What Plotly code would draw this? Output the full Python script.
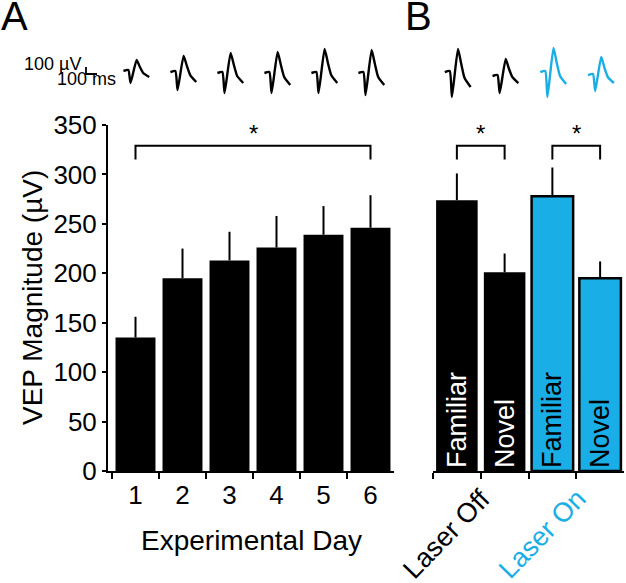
import plotly.graph_objects as go

# ---------------- data ----------------
days = ["1", "2", "3", "4", "5", "6"]
vep_days = [135, 195, 213, 226, 239, 246]
sem_days = [21, 30, 29, 32, 29, 33]

cond_cats = ["Off Familiar", "Off Novel", "On Familiar", "On Novel"]
cond_labels = ["Familiar", "Novel", "Familiar", "Novel"]
vep_cond = [274, 201, 278, 195]
sem_cond = [27, 19, 29, 17]
group_labels = ["Laser Off", "Laser On"]

sig_bracket_top = 329
sig_bracket_leg = 315
sig_star_y = 341

# example VEP waveforms (time in ms, amplitude in µV)
wave_t = [0, 45, 65, 120, 150, 180, 235]
waves_days = [
    [29, 43, -143, 186, 86, 0, -57],
    [14, 29, -243, 243, 100, -29, -129],
    [0, 14, -286, 286, 114, -43, -143],
    [0, 14, -286, 300, 114, -57, -172],
    [0, 14, -286, 343, 143, -29, -143],
    [0, 14, -315, 329, 129, -57, -172],
]
waves_cond = [
    [14, 29, -343, 343, 129, -72, -200],
    [-43, -29, -286, 200, 57, -57, -143],
    [14, 29, -343, 357, 143, -43, -157],
    [-29, -14, -257, 229, 71, -57, -143],
]
scale_ms = 100
scale_uv = 100

# ---------------- style ----------------
W, H = 626, 583
BLUE = "#1AAEE6"
FONT = "Liberation Sans, Arial, Helvetica, sans-serif"
ms_per_px = 100 / 11.0
uv_per_px = 100 / 7.0
lead_ms = 110


def px(x):
    return x / W


def py(y):
    return 1 - y / H


A_dom = [px(108), px(394)]
B_dom = [px(433), px(624)]
Y_dom = [py(471), py(125)]
A_range = [-0.585, 5.5]
B_range = [-0.5, 3.5]
ms_per_unit_A = 47.0 * ms_per_px
ms_per_unit_B = 47.75 * ms_per_px

wave_top, wave_bot, wave_base = 40, 100, 73
wave_yrange = [-(wave_bot - wave_base) * uv_per_px, (wave_base - wave_top) * uv_per_px]

fig = go.Figure()

# Panel A bars
fig.add_trace(go.Bar(
    x=days, y=vep_days, xaxis="x", yaxis="y",
    marker=dict(color="black", line=dict(width=0)),
    width=0.85,
    error_y=dict(type="data", array=sem_days, arrayminus=[0] * len(days),
                 symmetric=False, width=0, thickness=2, color="black"),
    showlegend=False, hoverinfo="skip",
))

# Panel B bars
fig.add_trace(go.Bar(
    x=cond_cats, y=vep_cond, xaxis="x2", yaxis="y2",
    marker=dict(color=["black", "black", BLUE, BLUE],
                line=dict(color="black", width=[0, 0, 2.5, 2.5])),
    width=0.87,
    text=cond_labels, textposition="inside", insidetextanchor="start",
    textangle=-90, constraintext="none",
    textfont=dict(family=FONT, size=27, color=["white", "white", "black", "black"]),
    error_y=dict(type="data", array=sem_cond, arrayminus=[0] * len(cond_cats),
                 symmetric=False, width=0, thickness=2, color="black"),
    showlegend=False, hoverinfo="skip",
))

# significance brackets
fig.add_trace(go.Scatter(
    x=[days[0], days[0], days[-1], days[-1]],
    y=[sig_bracket_leg, sig_bracket_top, sig_bracket_top, sig_bracket_leg],
    xaxis="x", yaxis="y", mode="lines", line=dict(color="black", width=2),
    showlegend=False, hoverinfo="skip",
))
for i in (0, 2):
    fig.add_trace(go.Scatter(
        x=[cond_cats[i], cond_cats[i], cond_cats[i + 1], cond_cats[i + 1]],
        y=[sig_bracket_leg, sig_bracket_top, sig_bracket_top, sig_bracket_leg],
        xaxis="x2", yaxis="y2", mode="lines", line=dict(color="black", width=2),
        showlegend=False, hoverinfo="skip",
    ))

# waveforms
for i, w in enumerate(waves_days):
    fig.add_trace(go.Scatter(
        x=[i + (t - lead_ms) / ms_per_unit_A for t in wave_t], y=w,
        xaxis="x3", yaxis="y3", mode="lines",
        line=dict(color="black", width=2.4, shape="spline", smoothing=0.5),
        showlegend=False, hoverinfo="skip",
    ))
for i, w in enumerate(waves_cond):
    fig.add_trace(go.Scatter(
        x=[i + (t - lead_ms) / ms_per_unit_B for t in wave_t], y=w,
        xaxis="x4", yaxis="y4", mode="lines",
        line=dict(color="black" if i < 2 else BLUE, width=2.4, shape="spline", smoothing=0.5),
        showlegend=False, hoverinfo="skip",
    ))

# scale bar
fig.add_trace(go.Scatter(
    x=[0, 0, scale_ms], y=[scale_uv, 0, 0], xaxis="x5", yaxis="y5",
    mode="lines", line=dict(color="black", width=1.8),
    showlegend=False, hoverinfo="skip",
))

axis_common = dict(showgrid=False, zeroline=False, color="black", automargin=False)
fig.update_layout(
    width=W, height=H,
    margin=dict(l=0, r=0, t=0, b=0, pad=0, autoexpand=False),
    paper_bgcolor="white", plot_bgcolor="rgba(0,0,0,0)",
    font=dict(family=FONT, size=26, color="black"),
    bargap=0.15,
    xaxis=dict(domain=A_dom, type="category", range=A_range, tickson="boundaries",
               ticks="outside", ticklen=6, tickwidth=2, tickcolor="black",
               showline=True, linewidth=2, linecolor="black",
               tickfont=dict(size=26), anchor="y", **axis_common),
    yaxis=dict(domain=Y_dom, range=[0, 350], tickvals=list(range(0, 351, 50)),
               ticks="outside", ticklen=4, tickwidth=2, tickcolor="black",
               showline=True, linewidth=2, linecolor="black",
               tickfont=dict(size=26), anchor="x", **axis_common),
    xaxis2=dict(domain=B_dom, type="category", range=B_range, tickson="boundaries",
                ticks="outside", ticklen=6, tickwidth=2, tickcolor="black",
                showline=True, linewidth=2, linecolor="black",
                showticklabels=False, anchor="y2", **axis_common),
    yaxis2=dict(domain=Y_dom, range=[0, 350], visible=False, anchor="x2"),
    xaxis3=dict(domain=A_dom, range=A_range, visible=False, anchor="y3"),
    yaxis3=dict(domain=[py(wave_bot), py(wave_top)], range=wave_yrange, visible=False, anchor="x3"),
    xaxis4=dict(domain=B_dom, range=B_range, visible=False, anchor="y4"),
    yaxis4=dict(domain=[py(wave_bot), py(wave_top)], range=wave_yrange, visible=False, anchor="x4"),
    xaxis5=dict(domain=[px(82), px(104)], range=[-4 * ms_per_px, 18 * ms_per_px],
                visible=False, anchor="y5"),
    yaxis5=dict(domain=[py(80), py(60)], range=[-6 * uv_per_px, 14 * uv_per_px],
                visible=False, anchor="x5"),
)


def note(text, x, y, size, xanchor="center", yanchor="middle", xref="paper", yref="paper", **kw):
    return dict(text=text, x=x, y=y, xref=xref, yref=yref, xanchor=xanchor,
                yanchor=yanchor, showarrow=False, font=dict(size=size, **kw.pop("font", {})), **kw)


ann = [
    note("A", px(-1), py(16), 40, xanchor="left"),
    note("B", px(403), py(16), 40, xanchor="left"),
    note("VEP Magnitude (µV)", px(32), py(298), 28, textangle=-90),
    note("Experimental Day", px(251), py(540), 28),
    note("100 µV", px(83), py(64), 18, xanchor="right"),
    note("100 ms", px(118), py(79), 18, xanchor="right"),
    note("*", 2.5, sig_star_y, 24, xref="x", yref="y"),
]
for c in (0.5, 2.5):
    ann.append(note("*", c, sig_star_y, 24, xref="x2", yref="y2"))
for j, (c, lab) in enumerate(zip((0.5, 2.5), group_labels)):
    ann.append(note(lab, c, py(534), 27, xref="x2", xshift=-34, textangle=-46,
                    font=dict(color="black" if j == 0 else BLUE)))
fig.update_layout(annotations=ann)

fig.write_html("out.html", config={"displayModeBar": False},
               post_script="document.body.style.margin='0';")
